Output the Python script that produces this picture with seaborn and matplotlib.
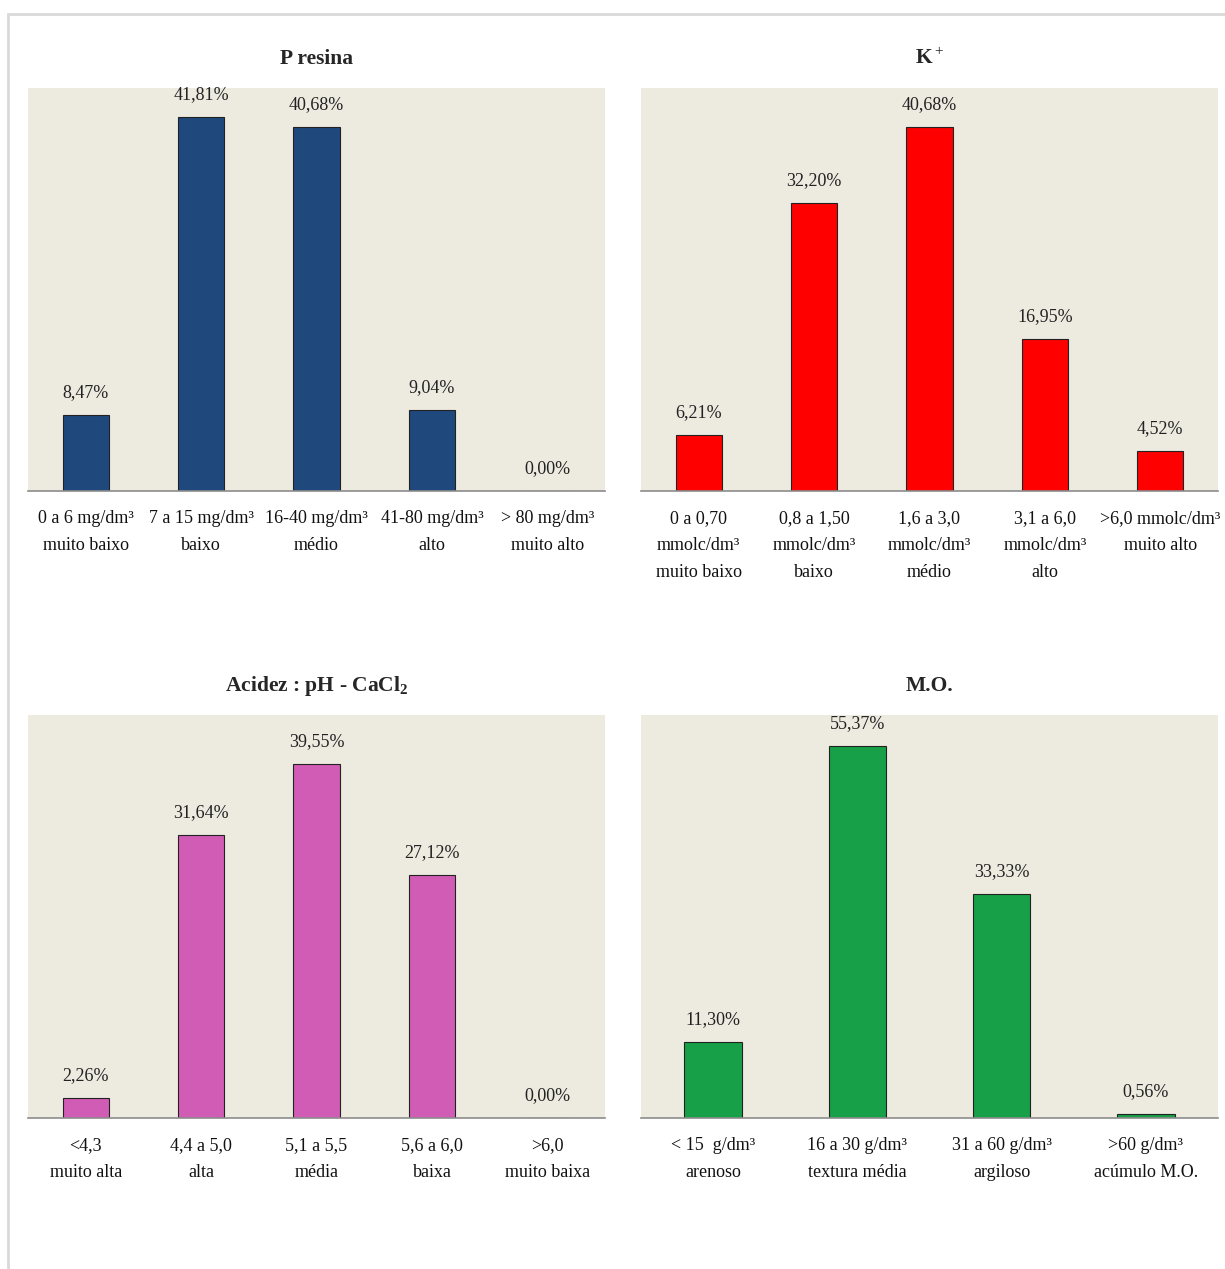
import matplotlib
matplotlib.use("Agg")
import matplotlib.pyplot as plt
import matplotlib.patches as mpatches
import pandas as pd
import seaborn as sns

# dados (percentual de amostras por classe)
p_cats = ["0 a 6 mg/dm³\nmuito baixo", "7 a 15 mg/dm³\nbaixo", "16-40 mg/dm³\nmédio",
          "41-80 mg/dm³\nalto", "> 80 mg/dm³\nmuito alto"]
p_vals = [8.47, 41.81, 40.68, 9.04, 0.00]

k_cats = ["0 a 0,70\nmmolc/dm³\nmuito baixo", "0,8 a 1,50\nmmolc/dm³\nbaixo",
          "1,6 a 3,0\nmmolc/dm³\nmédio", "3,1 a 6,0\nmmolc/dm³\nalto",
          ">6,0 mmolc/dm³\nmuito alto"]
k_vals = [6.21, 32.20, 40.68, 16.95, 4.52]

ph_cats = ["<4,3\nmuito alta", "4,4 a 5,0\nalta", "5,1 a 5,5\nmédia",
           "5,6 a 6,0\nbaixa", ">6,0\nmuito baixa"]
ph_vals = [2.26, 31.64, 39.55, 27.12, 0.00]

mo_cats = ["< 15  g/dm³\narenoso", "16 a 30 g/dm³\ntextura média",
           "31 a 60 g/dm³\nargiloso", ">60 g/dm³\nacúmulo M.O."]
mo_vals = [11.30, 55.37, 33.33, 0.56]

sns.set_theme(style="white")
plt.rcParams["font.family"] = ["Liberation Serif", "DejaVu Serif"]
plt.rcParams["mathtext.fontset"] = "custom"
plt.rcParams["mathtext.rm"] = "Liberation Serif"
plt.rcParams["mathtext.bf"] = "Liberation Serif:bold"

W, H = 1225, 1269
fig = plt.figure(figsize=(W / 100, H / 100), dpi=100)

# moldura cinza clara
fig.patches.append(mpatches.Rectangle((8 / W, -0.1), 2, 1 - 14 / H + 0.1,
                                      transform=fig.transFigure, fill=False,
                                      edgecolor="#D9D9D9", linewidth=2))

panels = [
    ("P resina", p_cats, p_vals, "#1F497D", 45, (28, 88)),
    (r"K$^+$", k_cats, k_vals, "#FF0000", 45, (641, 88)),
    (r"Acidez : pH - CaCl$_\mathbf{2}$", ph_cats, ph_vals, "#D15CB5", 45, (28, 715)),
    ("M.O.", mo_cats, mo_vals, "#17A047", 60, (641, 715)),
]

for title, cats, vals, color, ymax, (px, py) in panels:
    ax = fig.add_axes([px / W, 1 - (py + 403) / H, 577 / W, 403 / H])
    df = pd.DataFrame({"cat": cats, "val": vals})
    sns.barplot(data=df, x="cat", y="val", color=color, width=0.4,
                edgecolor="#222222", linewidth=0.8, saturation=1, ax=ax)
    ax.set_facecolor("#EDEAE0")
    ax.set_ylim(0, ymax)
    ax.set_xlim(-0.5, len(cats) - 0.5)
    for s in ["top", "left", "right"]:
        ax.spines[s].set_visible(False)
    ax.spines["bottom"].set_color("#8C8C8C")
    ax.spines["bottom"].set_linewidth(1.2)
    ax.set_yticks([])
    ax.set_xlabel("")
    ax.set_ylabel("")
    ax.tick_params(axis="x", length=0, pad=14, labelsize=13, labelcolor="#111111")
    for lbl in ax.get_xticklabels():
        lbl.set_linespacing(1.75)
    ax.bar_label(ax.containers[0],
                 labels=[f"{v:.2f}%".replace(".", ",") for v in vals],
                 padding=10, fontsize=13, color="#222222")
    ax.set_title(title, fontsize=15.5, fontweight="bold", pad=17)

fig.savefig("out.png", dpi=100, facecolor="white")
